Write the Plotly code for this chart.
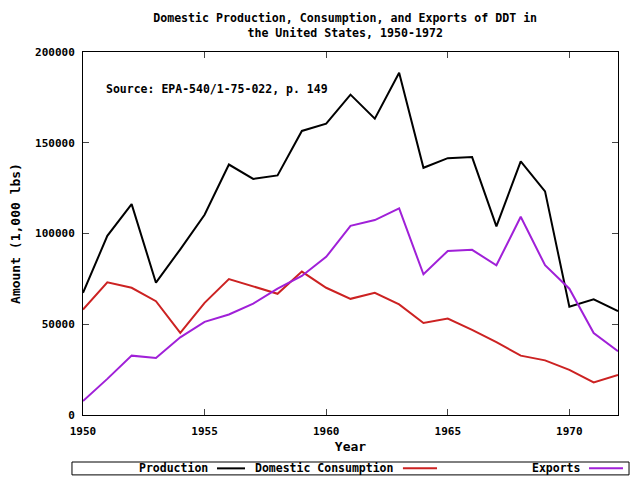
import plotly.graph_objects as go

years = list(range(1950, 1973))

# valores em 1.000 lbs
production = [67300, 98700, 116200, 72900, 91300, 110300, 138000, 130100, 132000, 156500,
              160500, 176500, 163300, 188600, 136200, 141500, 142100, 103900, 139700, 123200,
              59600, 63700, 57200]
consumption = [58100, 73100, 70100, 62700, 45200, 61800, 74900, 71000, 66800, 79000,
               70100, 64000, 67300, 60900, 50700, 53100, 46900, 40200, 32700, 30100,
               24900, 17900, 22100]
exports = [7700, 19900, 32700, 31400, 42800, 51300, 55400, 61400, 69600, 76600,
           87100, 104200, 107400, 113800, 77500, 90400, 91000, 82500, 109200, 82500,
           69600, 45200, 35100]

series_names = ["Production", "Domestic Consumption", "Exports"]
series_colors = ["#000000", "#cc2222", "#a020d8"]

FONT = "DejaVu Sans Mono"

fig = go.Figure()
for nome, ys, cor in zip(series_names, [production, consumption, exports], series_colors):
    fig.add_trace(go.Scatter(x=years, y=ys, mode="lines", name=nome,
                             line=dict(color=cor, width=2), showlegend=False))

# legenda no estilo gnuplot: texto e depois a amostra da linha
leg_y = -0.147
leg_pos = [(0.2374, 0.2505, 0.3028), (0.585, 0.598, 0.6617), (0.9327, 0.9458, 1.0093)]
for nome, cor, (tx, x0, x1) in zip(series_names, series_colors, leg_pos):
    fig.add_annotation(x=tx, y=leg_y, xref="paper", yref="paper", text=nome,
                       showarrow=False, xanchor="right", yanchor="middle",
                       font=dict(family=FONT, size=11.5, color="black", weight="bold"))
    fig.add_shape(type="line", xref="paper", yref="paper", x0=x0, x1=x1, y0=leg_y, y1=leg_y,
                  line=dict(color=cor, width=2))
fig.add_shape(type="rect", xref="paper", yref="paper", x0=-0.0206, x1=1.0206,
              y0=-0.1295, y1=-0.165, line=dict(color="black", width=1))

fig.add_annotation(x=0.040, y=0.898, xref="paper", yref="paper",
                   text="Source: EPA-540/1-75-022, p. 149", showarrow=False,
                   xanchor="left", yanchor="middle",
                   font=dict(family=FONT, size=11.5, color="black", weight="bold"))

# a pagina tem margem de 8px no body, por isso 632x472
fig.update_layout(
    width=632, height=472,
    margin=dict(l=75, r=22, t=44, b=65),
    paper_bgcolor="white", plot_bgcolor="white",
    font=dict(family=FONT, size=11, color="black", weight="bold"),
    title=dict(text="Domestic Production, Consumption, and Exports of DDT in<br>the United States, 1950-1972",
               x=0.49, xref="paper", xanchor="center", y=0.970, yanchor="top",
               font=dict(family=FONT, size=11.6, color="black", weight="bold")),
)
fig.update_xaxes(range=[1950, 1972], tickvals=[1950, 1955, 1960, 1965, 1970],
                 ticks="inside", ticklen=6, showgrid=False, zeroline=False,
                 showline=True, linecolor="black", linewidth=1, mirror="ticks",
                 ticklabelstandoff=6, automargin=False,
                 title=dict(text="Year", standoff=4))
fig.update_yaxes(range=[0, 200000], tickvals=[0, 50000, 100000, 150000, 200000],
                 tickformat="d", ticks="inside", ticklen=6, showgrid=False, zeroline=False,
                 showline=True, linecolor="black", linewidth=1, mirror="ticks",
                 ticklabelstandoff=5, automargin=False,
                 title=dict(text="Amount (1,000 lbs)", standoff=14))

fig.write_html("out.html")
